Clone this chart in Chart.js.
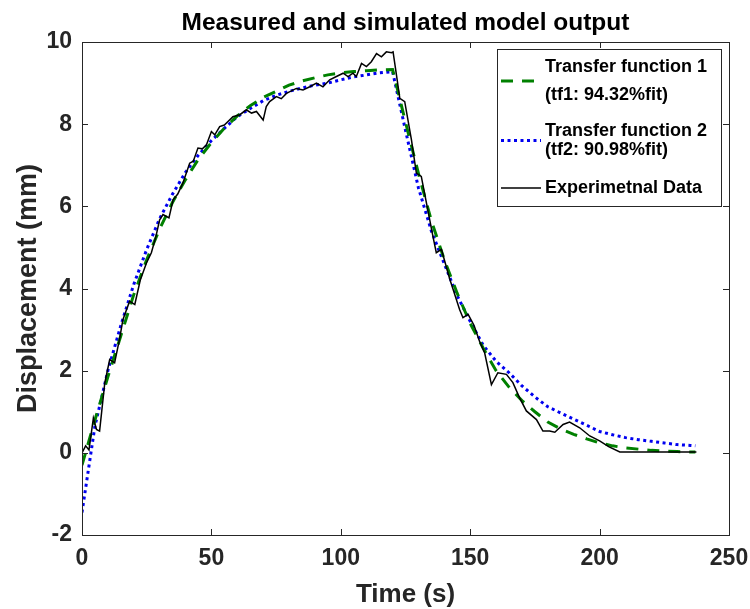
<!DOCTYPE html>
<html>
<head>
<meta charset="utf-8">
<script src="https://cdn.jsdelivr.net/npm/chart.js@4.4.1/dist/chart.umd.min.js"></script>
<style>
  html, body { margin: 0; padding: 0; background: #fff; }
  #wrap { width: 750px; height: 609px; }
</style>
</head>
<body>
<div id="wrap"><canvas id="modelChart" width="750" height="609"></canvas></div>
<script>
// time axis for the two fitted models (s)
var fitTime = [0, 5, 10, 15, 20, 25, 30, 35, 40, 45, 50, 55, 60, 65, 70, 75, 80, 85, 90, 95, 100, 105, 110, 115, 120,
  125, 130, 135, 140, 145, 150, 155, 160, 165, 170, 175, 180, 185, 190, 195, 200, 205, 210, 215, 220, 225, 230, 235, 237];

var tf1Values = [-0.3, 0.8, 1.85, 2.85, 3.85, 4.7, 5.45, 6.1, 6.65, 7.15, 7.55, 7.9, 8.2, 8.45, 8.65, 8.8, 8.95, 9.05, 9.13, 9.2, 9.25, 9.28, 9.3, 9.32, 9.33,
  8.05, 6.8, 5.65, 4.7, 3.88, 3.15, 2.55, 2.0, 1.6, 1.27, 1.0, 0.75, 0.58, 0.45, 0.34, 0.24, 0.17, 0.12, 0.09, 0.06, 0.045, 0.03, 0.02, 0.02];

var tf2Values = [-1.45, 0.65, 2.0, 3.1, 4.1, 4.95, 5.7, 6.3, 6.83, 7.25, 7.6, 7.9, 8.18, 8.38, 8.57, 8.7, 8.8, 8.88, 8.95, 9.0, 9.08, 9.15, 9.2, 9.25, 9.28,
  7.85, 6.45, 5.4, 4.6, 3.82, 3.2, 2.62, 2.23, 1.95, 1.63, 1.36, 1.12, 0.97, 0.82, 0.67, 0.52, 0.44, 0.37, 0.32, 0.28, 0.24, 0.2, 0.18, 0.17];

// measured displacement
var expTime = [0, 1.4, 2.7, 4.4, 5.6, 6.8, 8.8, 10.7, 12.6, 14.6, 15.8, 18.4, 20.4, 22.5, 24.9, 26.8, 28.5, 30, 31.3, 33.6,
  35.2, 37, 39, 41.6, 43, 44.8, 46.5, 48.1, 50, 51.3, 53.2, 55, 57, 58.3, 61, 63.5, 65.5, 67.4, 70, 71.2,
  72.5, 75.1, 77, 79, 82.8, 85.4, 88, 90.6, 93.1, 95.7, 98.3, 100.9, 102.8, 104.7, 106, 108, 109.9, 111.8, 113.8, 115.7,
  117.6, 119.6, 120.2, 121.5, 122.8, 124.7, 127.3, 129.2, 131.1, 133.5, 135.6, 136.9, 138.9, 142, 145.9, 147.2, 149.2, 151.5, 153.7, 155.6,
  158.2, 160.7, 164, 166.5, 169, 171.7, 175.6, 178.1, 180.7, 182.7, 185.9, 188.4, 192.3, 196.2, 200, 203.5, 207.8, 237.4];
var expValues = [0.0, 0.17, 0.07, 0.85, 0.57, 0.53, 1.7, 2.27, 2.19, 2.8, 3.24, 3.69, 3.61, 4.2, 4.62, 4.87, 5.25, 5.67, 5.8, 5.72,
  6.16, 6.3, 6.57, 7.05, 7.1, 7.42, 7.4, 7.5, 7.82, 7.74, 7.94, 7.98, 8.1, 8.18, 8.23, 8.35, 8.27, 8.31, 8.1, 8.43,
  8.55, 8.67, 8.62, 8.75, 8.87, 8.83, 8.91, 9.0, 8.91, 9.08, 9.16, 9.24, 9.16, 9.24, 9.16, 9.48, 9.4, 9.52, 9.72, 9.64,
  9.76, 9.74, 9.76, 9.2, 8.63, 8.55, 7.62, 6.81, 6.73, 5.95, 5.27, 4.87, 4.95, 4.25, 3.49, 3.29, 3.37, 3.1, 2.7, 2.43,
  1.66, 1.95, 1.91, 1.71, 1.35, 1.02, 0.81, 0.53, 0.53, 0.5, 0.69, 0.75, 0.61, 0.41, 0.29, 0.15, 0.02, 0.02];

var xTicks = [0, 50, 100, 150, 200, 250];
var yTicks = [-2, 0, 2, 4, 6, 8, 10];
var legendLines = [
  ["Transfer function 1", "(tf1: 94.32%fit)"],
  ["Transfer function 2", "(tf2: 90.98%fit)"],
  ["Experimetnal Data"]
];

var FONT = "'Liberation Sans', Arial, Helvetica, sans-serif";
var AXIS = "#262626";

function pairs(xs, ys) {
  return xs.map(function(x, i) { return {x: x, y: ys[i]}; });
}

// box round the axes, inward ticks on every side, and the legend box
var matlabFrame = {
  id: 'matlabFrame',
  afterDraw: function(chart) {
    var ctx = chart.ctx, a = chart.chartArea;
    var xs = chart.scales.x, ys = chart.scales.y;
    ctx.save();
    ctx.strokeStyle = AXIS;
    ctx.lineWidth = 1;
    ctx.strokeRect(Math.round(a.left) + 0.5, Math.round(a.top) + 0.5,
      Math.round(a.right - a.left), Math.round(a.bottom - a.top));
    ctx.beginPath();
    xTicks.forEach(function(v) {
      var px = Math.round(xs.getPixelForValue(v)) + 0.5;
      ctx.moveTo(px, a.bottom); ctx.lineTo(px, a.bottom - 6);
      ctx.moveTo(px, a.top); ctx.lineTo(px, a.top + 6);
    });
    yTicks.forEach(function(v) {
      var py = Math.round(ys.getPixelForValue(v)) + 0.5;
      ctx.moveTo(a.left, py); ctx.lineTo(a.left + 6, py);
      ctx.moveTo(a.right, py); ctx.lineTo(a.right - 6, py);
    });
    ctx.stroke();

    // legend
    var lx = 497, ly = 49, lw = 224, lh = 157;
    ctx.fillStyle = '#fff';
    ctx.fillRect(lx, ly, lw, lh);
    ctx.strokeStyle = AXIS;
    ctx.strokeRect(lx + 0.5, ly + 0.5, lw, lh);
    var rows = [[67, 95], [131, 150], [188]];
    ctx.font = 'bold 18px ' + FONT;
    ctx.textBaseline = 'middle';
    ctx.textAlign = 'left';
    ctx.fillStyle = '#000';
    chart.data.datasets.forEach(function(ds, i) {
      var r = rows[i];
      var mid = (r[0] + r[r.length - 1]) / 2;
      ctx.save();
      ctx.strokeStyle = ds.borderColor;
      ctx.lineWidth = ds.borderWidth;
      ctx.setLineDash(ds.borderDash || []);
      ctx.beginPath();
      ctx.moveTo(501, mid); ctx.lineTo(541, mid);
      ctx.stroke();
      ctx.restore();
      legendLines[i].forEach(function(t, j) {
        ctx.fillText(t, 545, r[j]);
      });
    });
    ctx.restore();
  }
};

new Chart(document.getElementById('modelChart'), {
  type: 'line',
  data: {
    datasets: [{
      label: 'Transfer function 1',
      data: pairs(fitTime, tf1Values),
      borderColor: '#008000',
      borderWidth: 3,
      borderDash: [12, 9],
      pointRadius: 0,
      order: 1
    }, {
      label: 'Transfer function 2',
      data: pairs(fitTime, tf2Values),
      borderColor: '#0000f0',
      borderWidth: 3,
      borderDash: [3, 3.5],
      pointRadius: 0,
      order: 2
    }, {
      label: 'Experimetnal Data',
      data: pairs(expTime, expValues),
      borderColor: '#000',
      borderWidth: 1.5,
      pointRadius: 0,
      order: 0
    }]
  },
  options: {
    responsive: false,
    animation: false,
    layout: { padding: { left: 0, right: 21, top: 0, bottom: 0 } },
    plugins: {
      legend: { display: false },
      tooltip: { enabled: false },
      title: {
        display: true,
        fullSize: false,
        text: 'Measured and simulated model output',
        color: '#000',
        font: { family: FONT, size: 24.5, weight: 'bold', lineHeight: 1.2 },
        padding: { top: 9, bottom: 3.6 }
      }
    },
    scales: {
      x: {
        type: 'linear',
        min: 0, max: 250,
        afterFit: function(s) { s.height = 74; s.paddingLeft = 0; s.paddingRight = 0; },
        afterBuildTicks: function(s) { s.ticks = xTicks.map(function(v) { return {value: v}; }); },
        grid: { drawOnChartArea: false, drawTicks: false },
        border: { display: false },
        ticks: { color: AXIS, padding: 10, maxRotation: 0, font: { family: FONT, size: 23, weight: 'bold' } },
        title: {
          display: true, text: 'Time (s)', color: AXIS,
          font: { family: FONT, size: 26, weight: 'bold', lineHeight: 1 },
          padding: { top: 0, bottom: 1 }
        }
      },
      y: {
        type: 'linear',
        min: -2, max: 10,
        afterFit: function(s) { s.width = 82; s.paddingTop = 0; s.paddingBottom = 0; },
        afterBuildTicks: function(s) { s.ticks = yTicks.map(function(v) { return {value: v}; }); },
        grid: { drawOnChartArea: false, drawTicks: false },
        border: { display: false },
        ticks: { color: AXIS, padding: 10, font: { family: FONT, size: 23, weight: 'bold' } },
        title: {
          display: true, text: 'Displacement (mm)', color: AXIS,
          font: { family: FONT, size: 27, weight: 'bold', lineHeight: 1 },
          padding: { top: 15, bottom: 0 }
        }
      }
    }
  },
  plugins: [matlabFrame]
});
</script>
</body>
</html>
